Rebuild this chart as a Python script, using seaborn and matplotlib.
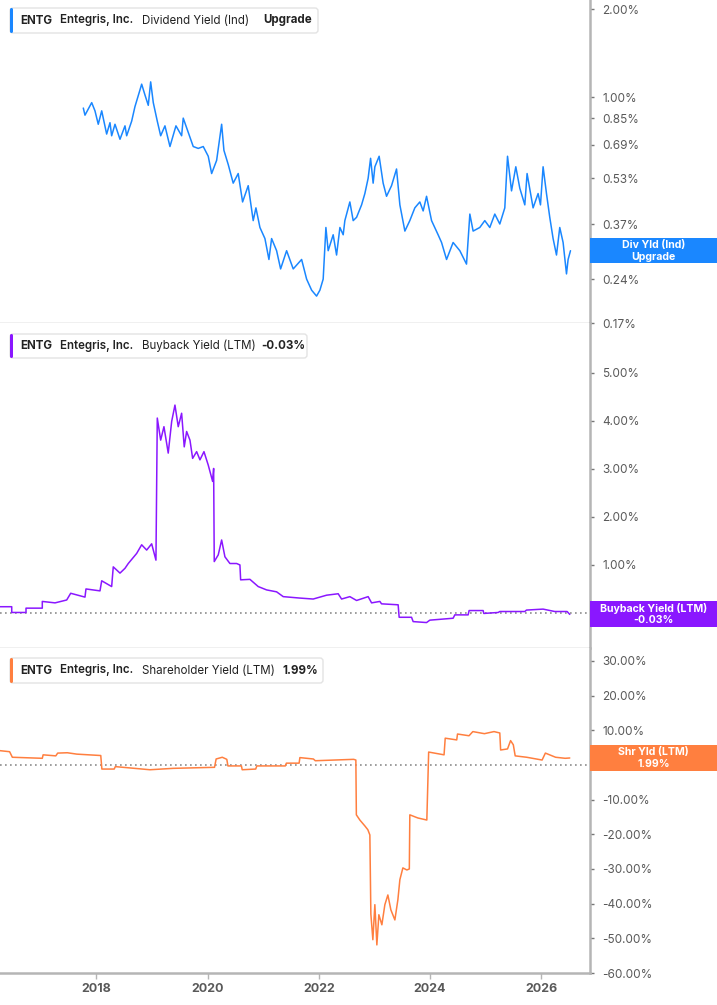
import matplotlib
matplotlib.use("Agg")
import numpy as np
import pandas as pd
import seaborn as sns
import matplotlib.pyplot as plt
from matplotlib.patches import Rectangle, FancyBboxPatch
from matplotlib.transforms import IdentityTransform
from matplotlib.ticker import NullLocator, FixedLocator, FixedFormatter

# ---------------- data ----------------
div_dates = [2017.763, 2017.793, 2017.914, 2017.973, 2018.032, 2018.094, 2018.183, 2018.243, 2018.273, 2018.333,
             2018.423, 2018.513, 2018.543, 2018.633, 2018.692, 2018.782, 2018.813, 2018.872, 2018.932, 2018.975,
             2019.022, 2019.094, 2019.155, 2019.232, 2019.322, 2019.430, 2019.532, 2019.561, 2019.651, 2019.741,
             2019.831, 2019.921, 2020.011, 2020.072, 2020.162, 2020.252, 2020.293, 2020.371, 2020.460, 2020.550,
             2020.629, 2020.730, 2020.820, 2020.869, 2020.941, 2021.031, 2021.103, 2021.151, 2021.241, 2021.313,
             2021.421, 2021.540, 2021.691, 2021.781, 2021.871, 2021.960, 2022.020, 2022.079, 2022.128, 2022.169,
             2022.259, 2022.320, 2022.380, 2022.439, 2022.469, 2022.559, 2022.619, 2022.680, 2022.770, 2022.829,
             2022.888, 2022.932, 2022.978, 2023.009, 2023.086, 2023.158, 2023.219, 2023.309, 2023.399, 2023.459,
             2023.549, 2023.638, 2023.728, 2023.818, 2023.878, 2023.939, 2024.029, 2024.147, 2024.209, 2024.299,
             2024.417, 2024.538, 2024.658, 2024.718, 2024.777, 2024.897, 2024.987, 2025.077, 2025.167, 2025.257,
             2025.347, 2025.396, 2025.468, 2025.545, 2025.617, 2025.707, 2025.748, 2025.856, 2025.946, 2025.989,
             2026.036, 2026.097, 2026.156, 2026.216, 2026.277, 2026.336, 2026.396, 2026.457, 2026.486, 2026.529]
div_vals = [0.92, 0.87, 0.96, 0.90, 0.81, 0.90, 0.75, 0.82, 0.74, 0.81,
            0.72, 0.80, 0.74, 0.83, 0.93, 1.06, 1.11, 1.02, 0.94, 1.13,
            0.96, 0.83, 0.74, 0.80, 0.68, 0.80, 0.74, 0.85, 0.76, 0.68,
            0.67, 0.68, 0.63, 0.55, 0.61, 0.81, 0.66, 0.59, 0.51, 0.55,
            0.44, 0.50, 0.38, 0.42, 0.36, 0.33, 0.28, 0.33, 0.30, 0.26,
            0.30, 0.26, 0.28, 0.24, 0.22, 0.21, 0.22, 0.24, 0.36, 0.30,
            0.34, 0.29, 0.36, 0.34, 0.38, 0.44, 0.38, 0.39, 0.43, 0.47,
            0.53, 0.62, 0.51, 0.58, 0.63, 0.51, 0.46, 0.50, 0.57, 0.43,
            0.35, 0.38, 0.42, 0.44, 0.41, 0.46, 0.38, 0.34, 0.32, 0.28,
            0.32, 0.30, 0.27, 0.40, 0.35, 0.36, 0.38, 0.36, 0.40, 0.37,
            0.42, 0.63, 0.48, 0.58, 0.49, 0.43, 0.55, 0.42, 0.47, 0.43,
            0.58, 0.47, 0.39, 0.33, 0.29, 0.36, 0.32, 0.25, 0.28, 0.30]

bb_dates = [2016.264, 2016.475, 2016.475, 2016.732, 2016.732, 2017.025, 2017.025, 2017.254, 2017.464, 2017.536,
            2017.793, 2017.811, 2018.063, 2018.094, 2018.273, 2018.302, 2018.423, 2018.513, 2018.572, 2018.723,
            2018.813, 2018.903, 2018.993, 2019.070, 2019.094, 2019.155, 2019.214, 2019.291, 2019.353, 2019.412,
            2019.471, 2019.532, 2019.579, 2019.622, 2019.682, 2019.730, 2019.802, 2019.862, 2019.934, 2020.011,
            2020.090, 2020.108, 2020.119, 2020.191, 2020.252, 2020.311, 2020.401, 2020.522, 2020.581, 2020.594,
            2020.761, 2020.910, 2021.061, 2021.241, 2021.360, 2021.660, 2021.899, 2022.140, 2022.349, 2022.410,
            2022.559, 2022.680, 2022.888, 2022.950, 2023.099, 2023.129, 2023.428, 2023.446, 2023.669, 2023.698,
            2023.939, 2023.998, 2024.417, 2024.448, 2024.687, 2024.705, 2024.957, 2024.969, 2025.227, 2025.257,
            2025.707, 2025.737, 2026.036, 2026.246, 2026.468, 2026.516]
bb_vals = [0.13, 0.13, 0.01, 0.01, 0.10, 0.10, 0.24, 0.21, 0.27, 0.41,
           0.33, 0.50, 0.46, 0.67, 0.55, 0.96, 0.83, 0.93, 1.03, 1.24,
           1.42, 1.31, 1.44, 1.10, 4.06, 3.60, 3.88, 3.33, 3.99, 4.33,
           3.88, 4.16, 3.46, 3.78, 3.60, 3.22, 3.36, 3.19, 3.36, 3.08,
           2.74, 3.01, 1.07, 1.21, 1.52, 1.17, 1.03, 1.03, 1.00, 0.69,
           0.70, 0.55, 0.48, 0.44, 0.34, 0.31, 0.29, 0.37, 0.40, 0.29,
           0.34, 0.26, 0.34, 0.21, 0.24, 0.19, 0.17, -0.09, -0.09, -0.18,
           -0.20, -0.15, -0.11, -0.04, -0.04, 0.05, 0.05, -0.01, 0.01, 0.03,
           0.03, 0.06, 0.08, 0.03, 0.03, -0.03]

shr_dates = [2016.264, 2016.437, 2016.486, 2017.025, 2017.040, 2017.268, 2017.302, 2017.475, 2017.647, 2018.077,
             2018.097, 2018.318, 2018.340, 2018.824, 2018.962, 2019.376, 2020.124, 2020.153, 2020.263, 2020.345,
             2020.365, 2020.608, 2020.622, 2020.865, 2020.885, 2021.397, 2021.417, 2021.646, 2021.660, 2021.903,
             2021.937, 2022.628, 2022.667, 2022.676, 2022.739, 2022.829, 2022.883, 2022.919, 2022.937, 2022.973,
             2023.009, 2023.045, 2023.081, 2023.135, 2023.189, 2023.243, 2023.297, 2023.369, 2023.423, 2023.459,
             2023.513, 2023.585, 2023.629, 2023.638, 2023.782, 2023.944, 2023.977, 2024.254, 2024.275, 2024.482,
             2024.496, 2024.703, 2024.772, 2024.980, 2025.153, 2025.257, 2025.272, 2025.396, 2025.451, 2025.500,
             2025.534, 2025.741, 2026.018, 2026.077, 2026.261, 2026.433, 2026.516]
shr_vals = [4.1, 3.8, 2.2, 1.9, 2.9, 2.6, 3.4, 3.5, 3.1, 2.7,
            -1.2, -1.2, -0.5, -1.2, -1.4, -1.0, -0.7, 1.7, 2.2, 1.6,
            -0.3, -0.3, -1.4, -1.2, -0.3, -0.3, 0.5, 0.5, 2.1, 1.7,
            1.2, 1.6, 1.4, -14.4, -15.9, -17.6, -18.7, -20.2, -43.0, -50.4,
            -40.3, -51.9, -43.2, -46.1, -40.3, -37.5, -41.8, -44.7, -38.9, -33.1,
            -29.7, -30.3, -30.0, -14.4, -15.3, -15.9, 3.7, 2.9, 7.7, 7.2,
            8.9, 8.4, 9.6, 9.0, 9.6, 9.2, 4.3, 4.6, 7.0, 5.8,
            2.6, 2.2, 1.4, 3.4, 2.2, 1.9, 1.99]

div_ticks = [2.00, 1.00, 0.85, 0.69, 0.53, 0.37, 0.31, 0.24, 0.17]
bb_ticks = [0, 1, 2, 3, 4, 5]
shr_ticks = [30, 20, 10, 0, -10, -20, -30, -40, -50, -60]
year_ticks = [2018, 2020, 2022, 2024, 2026]

BLUE = "#1a87ff"
PURPLE = "#8a17ff"
ORANGE = "#ff7f3f"
AXC = "#b5b5b5"
TXT = "#595959"

# ---------------- figure ----------------
sns.set_theme(style="white")
plt.rcParams['font.family'] = ['Inter', 'DejaVu Sans']

W, H = 717, 1005
fig = plt.figure(figsize=(W / 100, H / 100), dpi=100)
fig.patch.set_facecolor("white")

def fx(p):
    return p / W

def fy(p):
    return 1 - p / H

ax1 = fig.add_axes([0, fy(323), fx(590), 323 / H])
ax2 = fig.add_axes([0, fy(648), fx(590), 325 / H], sharex=ax1)
ax3 = fig.add_axes([0, fy(973), fx(590), 325 / H], sharex=ax1)

df1 = pd.DataFrame({"date": div_dates, "val": div_vals})
df2 = pd.DataFrame({"date": bb_dates, "val": bb_vals})
df3 = pd.DataFrame({"date": shr_dates, "val": shr_vals})

sns.lineplot(data=df1, x="date", y="val", ax=ax1, color=BLUE, lw=1.1, estimator=None, sort=False)
sns.lineplot(data=df2, x="date", y="val", ax=ax2, color=PURPLE, lw=1.1, estimator=None, sort=False)
sns.lineplot(data=df3, x="date", y="val", ax=ax3, color=ORANGE, lw=1.1, estimator=None, sort=False)

ax1.set_yscale("log")
ax1.set_ylim(0.17, 2.15)
ax2.set_ylim(-0.73, 6.04)
ax3.set_ylim(-60, 33.7)
ax1.set_xlim(2016.264, 2026.88)

ax2.axhline(0, color="#8c8c8c", lw=1.2, ls=(0, (1, 2)), zorder=1)
ax3.axhline(0, color="#8c8c8c", lw=1.2, ls=(0, (1, 2)), zorder=1)

for ax in (ax1, ax2, ax3):
    ax.set_facecolor("white")
    ax.set_xlabel("")
    ax.set_ylabel("")
    ax.grid(False)
    ax.spines["top"].set_visible(False)
    ax.spines["left"].set_visible(False)
    ax.spines["right"].set_color(AXC)
    ax.spines["right"].set_linewidth(1.8)
    ax.spines["bottom"].set_color(AXC)
    ax.spines["bottom"].set_linewidth(1.0)
    ax.yaxis.tick_right()
    ax.tick_params(axis="y", which="major", direction="out", length=3, width=1,
                   color="#777777", labelcolor=TXT, labelsize=8.5, pad=6,
                   left=False, right=True, labelleft=False, labelright=True)
    ax.tick_params(axis="y", which="minor", left=False, right=False)

ax1.yaxis.set_major_locator(FixedLocator(div_ticks))
ax1.yaxis.set_major_formatter(FixedFormatter([f"{t:.2f}%" for t in div_ticks]))
ax1.yaxis.set_minor_locator(NullLocator())
ax2.set_yticks(bb_ticks)
ax2.set_yticklabels([f"{t:.2f}%" for t in bb_ticks])
ax3.set_yticks(shr_ticks)
ax3.set_yticklabels([f"{t:.2f}%" for t in shr_ticks])

for ax in (ax1, ax2):
    ax.tick_params(axis="x", bottom=False, labelbottom=False)
ax3.spines["bottom"].set_linewidth(1.8)
ax3.set_xticks(year_ticks)
ax3.set_xticklabels([str(y) for y in year_ticks])
ax3.tick_params(axis="x", bottom=True, labelbottom=True, direction="out", length=4, width=1,
                color=AXC, labelcolor=TXT, labelsize=9, pad=3)
for lab in ax3.get_xticklabels():
    lab.set_fontweight("bold")

# ---------------- right value boxes ----------------
def value_box(y0, y1, color, l1, l2):
    r = Rectangle((fx(590), fy(y1)), 1 - fx(590), (y1 - y0) / H, transform=fig.transFigure,
                  facecolor=color, edgecolor="none", zorder=5)
    fig.add_artist(r)
    xc = fx(653.5)
    fig.text(xc, fy(y0 + (y1 - y0) * 0.28), l1, ha="center", va="center", color="white",
             fontsize=7.6, fontweight="bold", zorder=6)
    fig.text(xc, fy(y0 + (y1 - y0) * 0.74), l2, ha="center", va="center", color="white",
             fontsize=7.6, fontweight="bold", zorder=6)

value_box(238, 263, BLUE, "Div Yld (Ind)", "Upgrade")
value_box(601, 627, PURPLE, "Buyback Yield (LTM)", "-0.03%")
value_box(745, 771, ORANGE, "Shr Yld (LTM)", "1.99%")

# ---------------- title boxes ----------------
def title_box(y0, y1, x1, color, parts):
    box = FancyBboxPatch((10, H - y1), x1 - 10, y1 - y0, boxstyle="round,pad=0,rounding_size=3",
                         transform=IdentityTransform(), facecolor="white", edgecolor="#e3e3e3",
                         lw=1.0, zorder=5)
    fig.add_artist(box)
    bar = FancyBboxPatch((10, H - y1), 3, y1 - y0, boxstyle="round,pad=0,rounding_size=1.5",
                         transform=IdentityTransform(), facecolor=color, edgecolor="none", zorder=6)
    fig.add_artist(bar)
    yc = fy((y0 + y1) / 2)
    for xp, s, w in parts:
        fig.text(fx(xp), yc, s, ha="left", va="center", color="#222222", fontsize=8.3,
                 fontweight=w, zorder=7)

title_box(8, 33, 318, BLUE, [(20, "ENTG", "bold"), (60, "Entegris, Inc.", "semibold"),
                             (142, "Dividend Yield (Ind)", "normal"), (263, "Upgrade", "bold")])
title_box(334, 358, 307, PURPLE, [(20, "ENTG", "bold"), (60, "Entegris, Inc.", "semibold"),
                                  (142, "Buyback Yield (LTM)", "normal"), (261, "-0.03%", "bold")])
title_box(658, 683, 323, ORANGE, [(20, "ENTG", "bold"), (60, "Entegris, Inc.", "semibold"),
                                  (142, "Shareholder Yield (LTM)", "normal"), (282, "1.99%", "bold")])

fig.savefig("out.png", dpi=100, facecolor="white")
